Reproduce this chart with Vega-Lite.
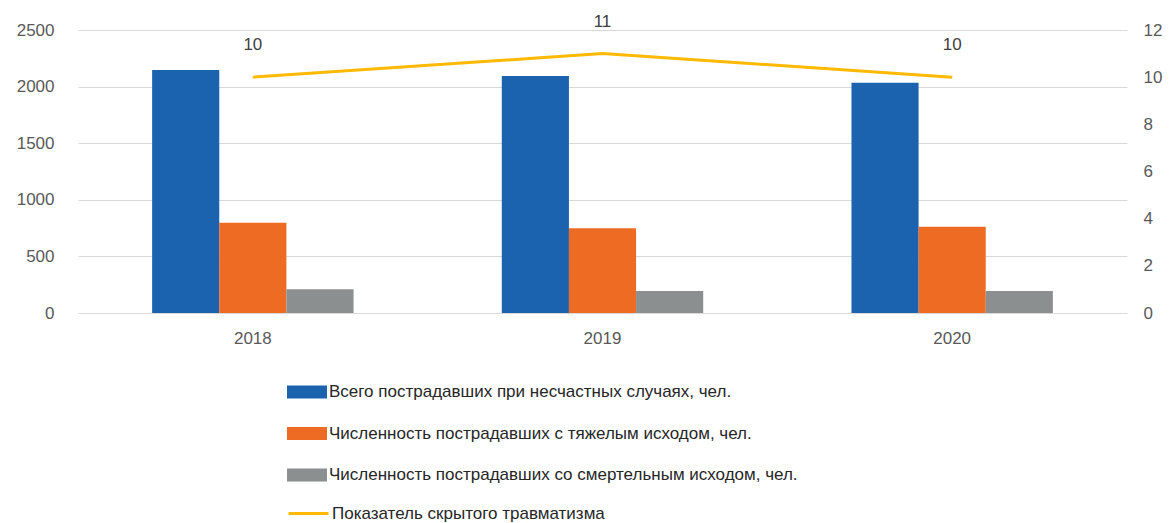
{
  "$schema": "https://vega.github.io/schema/vega-lite/v6.json",
  "width": 1049,
  "height": 283,
  "autosize": "none",
  "padding": {"left": 78, "top": 30, "right": 42, "bottom": 210},
  "background": "white",
  "config": {"view": {"stroke": null}, "font": "Liberation Sans"},
  "datasets": {
    "bars": [
      {"year": "2018", "series": "Всего пострадавших при несчастных случаях, чел.", "value": 2147},
      {"year": "2018", "series": "Численность пострадавших с тяжелым исходом, чел.", "value": 798},
      {"year": "2018", "series": "Численность пострадавших со смертельным исходом, чел.", "value": 209},
      {"year": "2019", "series": "Всего пострадавших при несчастных случаях, чел.", "value": 2094},
      {"year": "2019", "series": "Численность пострадавших с тяжелым исходом, чел.", "value": 748},
      {"year": "2019", "series": "Численность пострадавших со смертельным исходом, чел.", "value": 194},
      {"year": "2020", "series": "Всего пострадавших при несчастных случаях, чел.", "value": 2035},
      {"year": "2020", "series": "Численность пострадавших с тяжелым исходом, чел.", "value": 763},
      {"year": "2020", "series": "Численность пострадавших со смертельным исходом, чел.", "value": 194}
    ],
    "line": [
      {"year": "2018", "series": "Показатель скрытого травматизма", "index": 10},
      {"year": "2019", "series": "Показатель скрытого травматизма", "index": 11},
      {"year": "2020", "series": "Показатель скрытого травматизма", "index": 10}
    ]
  },
  "layer": [
    {
      "data": {"name": "bars"},
      "mark": {"type": "bar"},
      "encoding": {
        "x": {
          "field": "year", "type": "nominal",
          "scale": {"paddingInner": 0.424, "paddingOuter": 0.212},
          "axis": {"title": null, "grid": false, "domain": false, "ticks": false, "labelAngle": 0, "labelPadding": 17, "labelFontSize": 17, "labelColor": "#595959"}
        },
        "xOffset": {
          "field": "series", "type": "nominal",
          "sort": ["Всего пострадавших при несчастных случаях, чел.", "Численность пострадавших с тяжелым исходом, чел.", "Численность пострадавших со смертельным исходом, чел."],
          "scale": {"paddingInner": 0, "paddingOuter": 0}
        },
        "y": {
          "field": "value", "type": "quantitative",
          "scale": {"domain": [0, 2500]},
          "axis": {"orient": "left", "title": null, "format": "d", "values": [0, 500, 1000, 1500, 2000, 2500], "domain": false, "ticks": false, "labelPadding": 24, "labelFontSize": 17, "labelColor": "#595959", "gridColor": "#d9d9d9", "gridWidth": 1.2}
        },
        "color": {
          "field": "series", "type": "nominal",
          "sort": ["Всего пострадавших при несчастных случаях, чел.", "Численность пострадавших с тяжелым исходом, чел.", "Численность пострадавших со смертельным исходом, чел."],
          "scale": {
            "domain": ["Всего пострадавших при несчастных случаях, чел.", "Численность пострадавших с тяжелым исходом, чел.", "Численность пострадавших со смертельным исходом, чел."],
            "range": ["#1B63AF", "#EE6B24", "#8C8F8F"]
          },
          "legend": {
            "title": null, "orient": "none", "legendX": 209, "legendY": 342, "direction": "vertical",
            "symbolType": "M-1,-0.32H1V0.32H-1Z", "symbolSize": 1600, "symbolStrokeWidth": 0,
            "labelFontSize": 17, "labelColor": "#262626", "labelLimit": 0, "labelOffset": 2, "rowPadding": 13.5
          }
        }
      }
    },
    {
      "data": {"name": "line"},
      "mark": {"type": "line", "strokeWidth": 3},
      "encoding": {
        "x": {"field": "year", "type": "nominal"},
        "y": {
          "field": "index", "type": "quantitative",
          "scale": {"domain": [0, 12]},
          "axis": {"orient": "right", "title": null, "values": [0, 2, 4, 6, 8, 10, 12], "grid": false, "domain": false, "ticks": false, "labelPadding": 16, "labelFontSize": 17, "labelColor": "#595959"}
        },
        "stroke": {
          "field": "series", "type": "nominal",
          "scale": {"range": ["#FFB901"]},
          "legend": {
            "title": null, "orient": "none", "legendX": 209, "legendY": 462, "direction": "vertical",
            "symbolType": "stroke", "symbolSize": 1600, "symbolStrokeWidth": 3,
            "labelFontSize": 17, "labelColor": "#262626", "labelLimit": 0, "labelOffset": 2
          }
        }
      }
    },
    {
      "data": {"name": "line"},
      "mark": {"type": "text", "dy": -32, "fontSize": 17, "color": "#404040"},
      "encoding": {
        "x": {"field": "year", "type": "nominal"},
        "y": {"field": "index", "type": "quantitative", "scale": {"domain": [0, 12]}, "axis": null},
        "text": {"field": "index", "type": "quantitative"}
      }
    }
  ],
  "resolve": {"scale": {"y": "independent", "color": "independent"}}
}
